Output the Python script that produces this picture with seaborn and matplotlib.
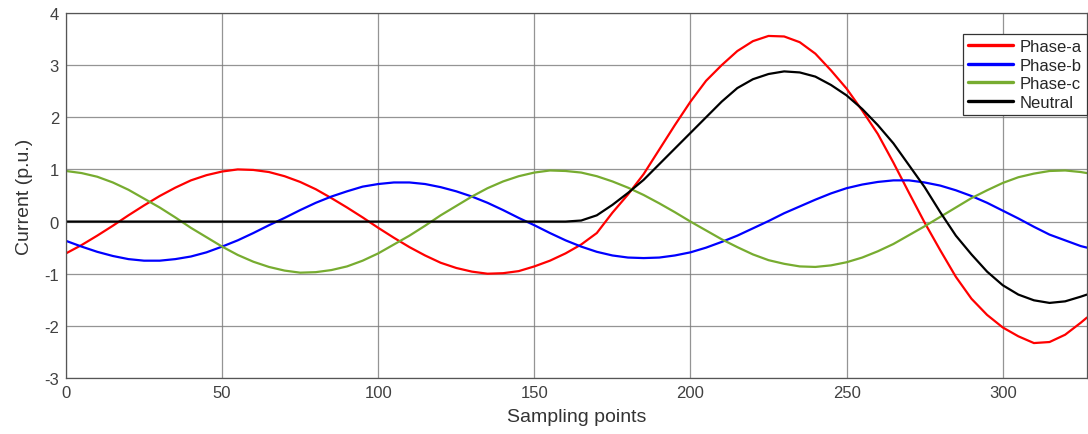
import numpy as np
import pandas as pd
import matplotlib
matplotlib.use("Agg")
import matplotlib.pyplot as plt
import seaborn as sns

# Sampling points (x axis)
samples = list(range(0, 330, 5)) + [327]

phase_a = [-0.61, -0.45, -0.27, -0.08, 0.12, 0.31, 0.49, 0.65, 0.79, 0.89,
           0.96, 1.00, 0.99, 0.95, 0.87, 0.76, 0.62, 0.45, 0.27, 0.08,
           -0.12, -0.31, -0.49, -0.65, -0.79, -0.89, -0.96, -1.00, -0.99, -0.95,
           -0.86, -0.75, -0.61, -0.44, -0.22, 0.17, 0.52, 0.91, 1.38, 1.85,
           2.30, 2.70, 3.00, 3.27, 3.46, 3.56, 3.55, 3.44, 3.22, 2.90,
           2.55, 2.13, 1.68, 1.13, 0.55, -0.02, -0.55, -1.06, -1.48, -1.79,
           -2.03, -2.20, -2.33, -2.31, -2.17, -1.94, -1.84]

phase_b = [-0.37, -0.48, -0.58, -0.66, -0.72, -0.75, -0.75, -0.72, -0.67, -0.59,
           -0.48, -0.36, -0.22, -0.07, 0.07, 0.22, 0.36, 0.48, 0.58, 0.67,
           0.72, 0.75, 0.75, 0.72, 0.66, 0.58, 0.48, 0.36, 0.22, 0.07,
           -0.07, -0.22, -0.36, -0.48, -0.58, -0.65, -0.69, -0.70, -0.69, -0.65,
           -0.59, -0.50, -0.39, -0.27, -0.13, 0.01, 0.16, 0.29, 0.42, 0.54,
           0.64, 0.71, 0.76, 0.79, 0.79, 0.75, 0.69, 0.60, 0.49, 0.36,
           0.21, 0.06, -0.10, -0.25, -0.36, -0.47, -0.50]

phase_c = [0.97, 0.93, 0.86, 0.75, 0.61, 0.44, 0.27, 0.08, -0.12, -0.30,
           -0.48, -0.64, -0.77, -0.87, -0.94, -0.98, -0.97, -0.93, -0.86, -0.75,
           -0.61, -0.44, -0.27, -0.08, 0.12, 0.30, 0.48, 0.64, 0.77, 0.87,
           0.94, 0.98, 0.97, 0.94, 0.87, 0.77, 0.65, 0.51, 0.35, 0.18,
           0.00, -0.17, -0.34, -0.49, -0.63, -0.74, -0.81, -0.86, -0.87, -0.84,
           -0.78, -0.69, -0.57, -0.43, -0.26, -0.09, 0.09, 0.27, 0.45, 0.60,
           0.74, 0.85, 0.92, 0.97, 0.98, 0.95, 0.93]

neutral = [0.0] * 33 + [0.02, 0.12, 0.32, 0.55, 0.80, 1.10, 1.40,
           1.70, 2.00, 2.30, 2.56, 2.73, 2.83, 2.88, 2.86, 2.78, 2.62,
           2.42, 2.16, 1.85, 1.50, 1.08, 0.66, 0.18, -0.27, -0.63, -0.96,
           -1.22, -1.40, -1.51, -1.56, -1.53, -1.44, -1.40]

series_names = ["Phase-a", "Phase-b", "Phase-c", "Neutral"]
series_colors = ["#ff0000", "#0000ff", "#77ac30", "#000000"]

x_ticks = [0, 50, 100, 150, 200, 250, 300]
y_ticks = [-3, -2, -1, 0, 1, 2, 3, 4]

frames = []
for name, vals in zip(series_names, [phase_a, phase_b, phase_c, neutral]):
    frames.append(pd.DataFrame({"Sample": samples, "Current": vals, "Series": name}))
df = pd.concat(frames, ignore_index=True)

sns.set_theme(style="white")
plt.rcParams["font.family"] = ["Liberation Sans", "DejaVu Sans"]
plt.rcParams["axes.unicode_minus"] = False

fig = plt.figure(figsize=(10.88, 4.35), dpi=100)
ax = fig.add_axes([66 / 1088, 1 - 379 / 435, (1087 - 66) / 1088, (379 - 14) / 435])

sns.lineplot(data=df, x="Sample", y="Current", hue="Series",
             hue_order=series_names, palette=dict(zip(series_names, series_colors)),
             linewidth=1.6, ax=ax, sort=False)

ax.set_xlim(0, 327)
ax.set_ylim(-3, 4)
ax.set_xticks(x_ticks)
ax.set_yticks(y_ticks)
ax.grid(True, color="#7a7a7a", linewidth=0.9, alpha=0.8)
ax.set_axisbelow(True)
for s in ax.spines.values():
    s.set_visible(True)
    s.set_color("#555555")
    s.set_linewidth(0.9)
ax.tick_params(direction="in", length=4, colors="#404040", labelsize=12,
               pad=5)
ax.set_xlabel("Sampling points", fontsize=14, color="#333333", labelpad=6)
ax.set_ylabel("Current (p.u.)", fontsize=14, color="#333333", labelpad=8)

leg = ax.legend(loc="upper right", bbox_to_anchor=(1.0, 0.9425), fontsize=12,
                frameon=True, fancybox=False, framealpha=1, edgecolor="#333333",
                handlelength=2.7, borderpad=0.3, labelspacing=0.22,
                handletextpad=0.4, borderaxespad=0.0)
leg.get_frame().set_linewidth(0.9)
for line in leg.get_lines():
    line.set_linewidth(2.4)

fig.savefig("out.png", dpi=100)
